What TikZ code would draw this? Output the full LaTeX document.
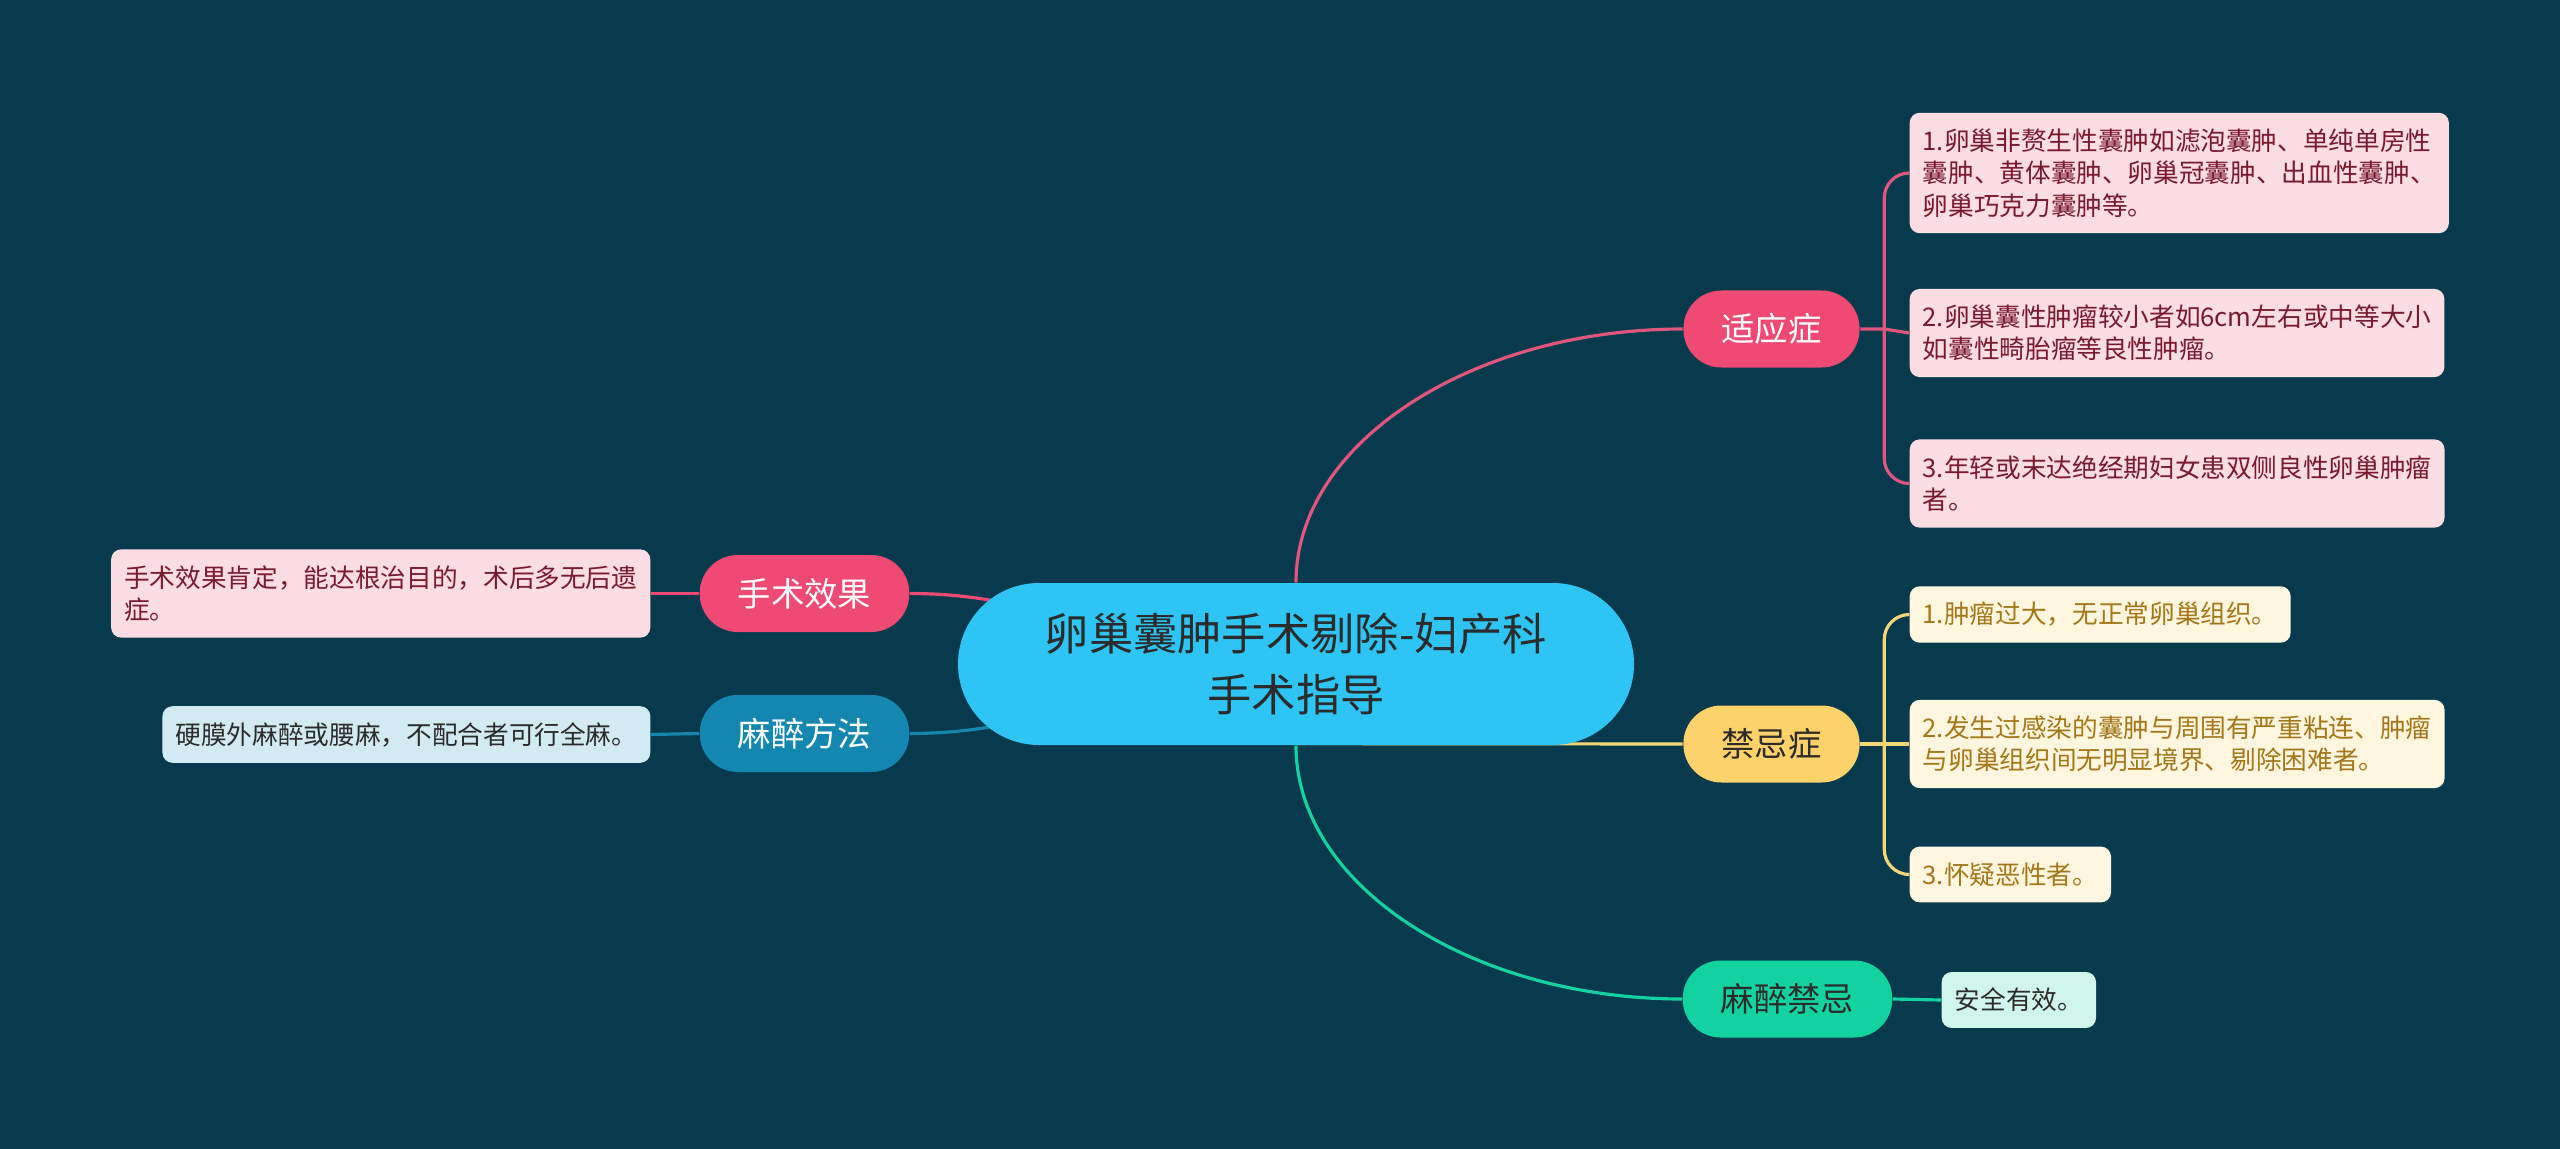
\documentclass[tikz,border=0pt]{standalone}
\usepackage{fontspec}
\newfontfamily\cjk{Noto Sans CJK SC}
\usetikzlibrary{backgrounds}

\definecolor{bgblue}{HTML}{083A4D}
\definecolor{topicblue}{HTML}{2EC4F4}
\definecolor{rosered}{HTML}{EE4A74}
\definecolor{roseline}{HTML}{E2557C}
\definecolor{roseleaf}{HTML}{FCDDE3}
\definecolor{rosetext}{HTML}{7A1A2E}
\definecolor{sunyellow}{HTML}{FDD26B}
\definecolor{sunline}{HTML}{F5D677}
\definecolor{sunleaf}{HTML}{FFF6E0}
\definecolor{suntext}{HTML}{A47718}
\definecolor{mintgreen}{HTML}{12D39F}
\definecolor{mintleaf}{HTML}{D0F6EC}
\definecolor{seablue}{HTML}{1387B0}
\definecolor{sealeaf}{HTML}{D2EBF2}
\definecolor{inkgray}{HTML}{2B2B2B}

\tikzset{
  topic/.style={fill=topicblue, text=inkgray, rounded corners=0.81cm, minimum width=6.76cm, minimum height=1.62cm, align=center, font=\cjk\fontsize{12.6}{17.6}\selectfont},
  branch/.style={rounded corners=0.38cm, minimum height=0.77cm, inner xsep=0.38cm, font=\cjk\fontsize{9.5}{11}\selectfont},
  leaf/.style={rounded corners=0.1cm, align=left, inner xsep=0.13cm, inner ysep=0.16cm, font=\cjk\fontsize{7.3}{9.2}\selectfont},
  link/.style={line width=0.9pt},
}

\begin{document}
\begin{tikzpicture}

\node [topic] (c) at (12.96,-6.64) {卵巢囊肿手术剔除-妇产科\\手术指导};

\node [branch, fill=rosered, text=white] (indic) at (17.715,-3.29) {适应症};
\node [branch, fill=sunyellow, text=inkgray] (contra) at (17.715,-7.44) {禁忌症};
\node [branch, fill=mintgreen, text=inkgray] (anesno) at (17.875,-9.99) {麻醉禁忌};
\node [branch, fill=rosered, text=white] (effect) at (8.045,-5.935) {手术效果};
\node [branch, fill=seablue, text=white] (anesway) at (8.045,-7.335) {麻醉方法};

\node [leaf, fill=roseleaf, text=rosetext, anchor=west] (indic1) at (19.09,-1.73) {1.卵巢非赘生性囊肿如滤泡囊肿、单纯单房性\\囊肿、黄体囊肿、卵巢冠囊肿、出血性囊肿、\\卵巢巧克力囊肿等。};
\node [leaf, fill=roseleaf, text=rosetext, anchor=west] (indic2) at (19.09,-3.33) {2.卵巢囊性肿瘤较小者如6cm左右或中等大小\\如囊性畸胎瘤等良性肿瘤。};
\node [leaf, fill=roseleaf, text=rosetext, anchor=west] (indic3) at (19.09,-4.835) {3.年轻或末达绝经期妇女患双侧良性卵巢肿瘤\\者。};

\node [leaf, fill=sunleaf, text=suntext, anchor=west] (contra1) at (19.09,-6.145) {1.肿瘤过大，无正常卵巢组织。};
\node [leaf, fill=sunleaf, text=suntext, anchor=west] (contra2) at (19.09,-7.44) {2.发生过感染的囊肿与周围有严重粘连、肿瘤\\与卵巢组织间无明显境界、剔除困难者。};
\node [leaf, fill=sunleaf, text=suntext, anchor=west] (contra3) at (19.09,-8.745) {3.怀疑恶性者。};

\node [leaf, fill=mintleaf, text=inkgray, anchor=west] (anesno1) at (19.41,-10.0) {安全有效。};

\node [leaf, fill=roseleaf, text=rosetext, anchor=east] (effect1) at (6.51,-5.935) {手术效果肯定，能达根治目的，术后多无后遗\\症。};
\node [leaf, fill=sealeaf, text=inkgray, anchor=east] (anesway1) at (6.51,-7.345) {硬膜外麻醉或腰麻，不配合者可行全麻。};

\coordinate (indicfork) at ([xshift=0.24cm]indic.east);
\coordinate (contrafork) at ([xshift=0.24cm]contra.east);

\begin{pgfonlayer}{background}
\fill [bgblue] (0,0) rectangle (25.6,-11.49);

\draw [link, roseline] (c.north) .. controls +(0,1.4) and +(-2.1,0) .. (indic.west);
\draw [link, sunline] ([yshift=0.6pt]c.south) -- (contra.west);
\draw [link, mintgreen] (c.south) .. controls +(0,-1.4) and +(-2.1,0) .. (anesno.west);
\draw [link, rosered] (c.center) to [out=180, in=0] (effect.east);
\draw [link, seablue] (c.center) to [out=180, in=0] (anesway.east);

\draw [link, roseline] (indic.east) -- (indicfork) -- (indic2.west);
\foreach \i in {1,3}
  \draw [link, roseline, rounded corners=0.25cm] (indicfork) |- (indic\i.west);

\draw [link, sunline] (contra.east) -- (contrafork) -- (contra2.west);
\foreach \i in {1,3}
  \draw [link, sunline, rounded corners=0.25cm] (contrafork) |- (contra\i.west);

\draw [link, mintgreen] (anesno.east) -- (anesno1.west);
\draw [link, rosered] (effect.west) -- (effect1.east);
\draw [link, seablue] (anesway.west) -- (anesway1.east);
\end{pgfonlayer}
\end{tikzpicture}
\end{document}
